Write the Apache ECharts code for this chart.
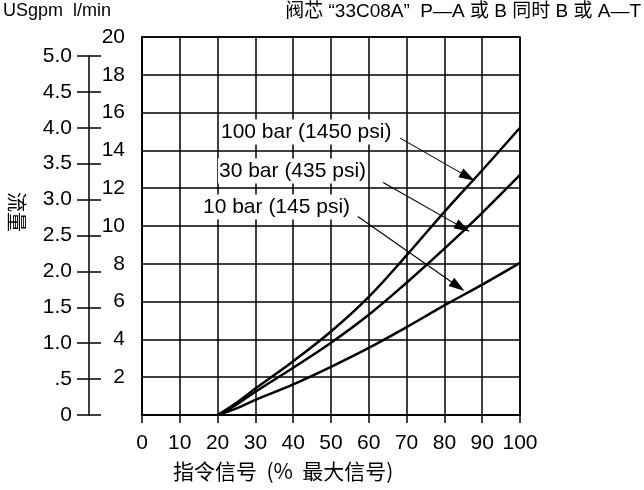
<!DOCTYPE html>
<html>
<head>
<meta charset="utf-8">
<script src="https://cdn.jsdelivr.net/npm/echarts@6/dist/echarts.min.js"></script>
<style>
  html, body { margin: 0; padding: 0; background: #fff; }
  #chart { width: 644px; height: 490px; }
</style>
</head>
<body>
<div id="chart"></div>
<script>
// command signal (% of max)
const signal = [20, 25, 30, 40, 50, 60, 70, 80, 90, 100];
// flow in l/min for each pressure drop
const flow100bar = [0, 0.65, 1.4, 2.85, 4.42, 6.25, 8.45, 10.75, 12.95, 15.2];
const flow30bar  = [0, 0.55, 1.23, 2.5, 3.82, 5.3, 7.0, 8.8, 10.7, 12.7];
const flow10bar  = [0, 0.35, 0.8, 1.62, 2.55, 3.55, 4.65, 5.8, 6.9, 8.05];
const seriesNames = ['100 bar (1450 psi)', '30 bar (435 psi)', '10 bar (145 psi)'];
// arrow start / end in data units [signal, l/min]
const arrows = [
  [[68.3, 14.65], [86.2, 12.6]],
  [[63.8, 12.3], [84.9, 9.9]],
  [[57.1, 10.5], [83.6, 6.8]]
];
const gpmMax = 5.0;

const FONT = "'Liberation Sans', 'Noto Sans CJK SC', sans-serif";
const CJK = "'Noto Sans CJK SC', sans-serif";

const pair = (xs, ys) => xs.map((x, i) => [x, ys[i]]);

const chart = echarts.init(document.getElementById('chart'));

const curve = (name, data, withArrows) => ({
  name: name,
  type: 'line',
  xAxisIndex: 0,
  yAxisIndex: 0,
  data: data,
  smooth: 0.4,
  symbol: 'none',
  lineStyle: { color: '#000', width: 2.5 },
  z: 5,
  markLine: withArrows ? {
    silent: true,
    symbol: ['none', 'triangle'],
    symbolSize: [10, 16],
    lineStyle: { color: '#000', width: 1.1, type: 'solid' },
    label: { show: false },
    data: arrows.map(a => [{ coord: a[0] }, { coord: a[1] }])
  } : undefined
});

chart.setOption({
  animation: false,
  textStyle: { fontFamily: FONT, color: '#000' },
  grid: [
    { left: 142, top: 37, width: 378, height: 378, show: true, borderColor: '#000', borderWidth: 1.5 },
    { left: 77, top: 56, width: 24, height: 359 }
  ],
  xAxis: [
    {
      gridIndex: 0, type: 'value', min: 0, max: 100, interval: 10,
      axisLine: { show: true, lineStyle: { color: '#000', width: 1.5 } },
      axisTick: { show: true, inside: false, length: 8, lineStyle: { color: '#000', width: 1.5 } },
      axisLabel: { fontSize: 21, color: '#000', margin: 18, fontFamily: FONT },
      splitLine: { show: true, lineStyle: { color: '#000', width: 1.5 } }
    },
    { gridIndex: 1, type: 'value', min: 0, max: 1, show: false }
  ],
  yAxis: [
    {
      gridIndex: 0, type: 'value', min: 0, max: 20, interval: 2,
      axisLine: { show: true, lineStyle: { color: '#000', width: 1.5 } },
      axisTick: { show: false },
      axisLabel: {
        fontSize: 21, color: '#000', margin: 17, fontFamily: FONT,
        formatter: v => (v === 0 ? '' : String(v))
      },
      splitLine: { show: true, lineStyle: { color: '#000', width: 1.5 } }
    },
    {
      gridIndex: 1, type: 'value', min: 0, max: gpmMax, interval: 0.5,
      offset: -12,
      axisLine: { show: true, lineStyle: { color: '#000', width: 1.5 } },
      axisTick: { show: false },
      axisLabel: {
        fontSize: 21, color: '#000', margin: 17, fontFamily: FONT,
        formatter: v => (v === 0 ? '0' : v === 0.5 ? '.5' : v.toFixed(1))
      },
      splitLine: { show: true, showMinLine: true, showMaxLine: true, lineStyle: { color: '#000', width: 1.5 } }
    }
  ],
  series: [
    curve(seriesNames[0], pair(signal, flow100bar), true),
    curve(seriesNames[1], pair(signal, flow30bar), false),
    curve(seriesNames[2], pair(signal, flow10bar), false)
  ],
  graphic: [
    { type: 'text', left: 3, top: 2, style: { text: 'USgpm  l/min', font: '18px ' + FONT, fill: '#000' } },
    { type: 'text', right: 3, top: 2, style: { text: '阀芯 “33C08A”  P—A 或 B 同时 B 或 A—T', font: '19px ' + FONT, fill: '#000' } },
    { type: 'text', left: 173, top: 461, style: { text: '指令信号  (%  最大信号)', font: '21px ' + CJK, fill: '#000' } },
    { type: 'text', x: 17, y: 192, rotation: -Math.PI / 2, style: { text: '流量', font: '20px ' + CJK, fill: '#000', align: 'left', verticalAlign: 'middle' } },
    { type: 'text', x: 220, y: 132, z: 10, style: { text: seriesNames[0], font: '21px ' + FONT, fill: '#000', verticalAlign: 'middle', backgroundColor: '#fff', padding: [2, 1] } },
    { type: 'text', x: 218, y: 171, z: 10, style: { text: seriesNames[1], font: '21px ' + FONT, fill: '#000', verticalAlign: 'middle', backgroundColor: '#fff', padding: [2, 1] } },
    { type: 'text', x: 202, y: 207, z: 10, style: { text: seriesNames[2], font: '21px ' + FONT, fill: '#000', verticalAlign: 'middle', backgroundColor: '#fff', padding: [2, 1] } }
  ]
});
</script>
</body>
</html>
